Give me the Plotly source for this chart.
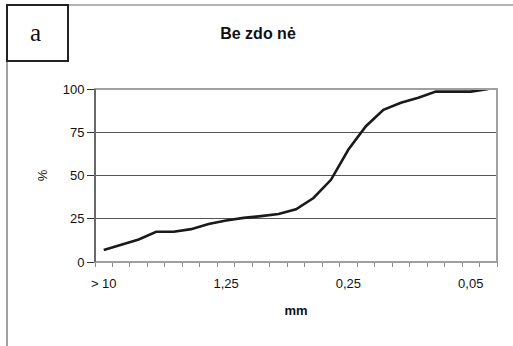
import plotly.graph_objects as go

# Particle-size distribution (cumulative %, fine fraction on the right)
positions = list(range(23))
passing = [7, 10, 13, 17.5, 17.5, 19, 22, 24, 25.5, 26.5, 27.7, 30.5, 37,
           47.5, 65, 78.5, 88, 92, 95, 98.5, 98.5, 98.5, 100]
tick_positions = [0, 7, 14, 21]
tick_labels = ["> 10", "1,25", "0,25", "0,05"]
y_ticks = [0, 25, 50, 75, 100]

W, H = 513, 346
L, R, T, B = 95, 497, 89, 262


def px_x(x):
    return (x - L) / (R - L)


def px_y(y):
    return (B - y) / (B - T)


FONT = "Arial, Liberation Sans, sans-serif"

fig = go.Figure()
fig.add_trace(go.Scatter(
    x=positions, y=passing, mode="lines",
    line=dict(color="#1a1a1a", width=2.6),
    hoverinfo="skip", showlegend=False, cliponaxis=False,
))

fig.update_layout(
    width=W, height=H,
    margin=dict(l=L, r=W - R, t=T, b=H - B, pad=0),
    paper_bgcolor="white", plot_bgcolor="white",
    font=dict(family=FONT, size=13, color="#111"),
    title=dict(text="<b>Be zdo nė</b>", x=258 / W, y=1 - 33 / H,
               xanchor="center", yanchor="middle",
               font=dict(family=FONT, size=16, color="#111")),
    xaxis=dict(
        range=[-0.5, 22.5], tickmode="array",
        tickvals=tick_positions, ticktext=tick_labels,
        ticks="outside", ticklen=9, tickcolor="rgba(0,0,0,0)",
        showgrid=False, zeroline=False,
        showline=True, linecolor="#8a8a8a", linewidth=1,
        tickfont=dict(size=13, color="#111"),
        minor=dict(tickmode="array",
                   tickvals=[p - 0.5 for p in range(24)],
                   ticks="outside", ticklen=4, tickcolor="#8a8a8a",
                   tickwidth=1, showgrid=False),
        title=dict(text="<b>mm</b>", standoff=16,
                   font=dict(family=FONT, size=13, color="#111")),
        fixedrange=True,
    ),
    yaxis=dict(
        range=[0, 100], tickmode="array", tickvals=y_ticks,
        ticks="outside", ticklen=7, tickcolor="#333", tickwidth=1,
        showgrid=True, gridcolor="#555", gridwidth=1,
        zeroline=False, showline=True, linecolor="#333", linewidth=1,
        tickfont=dict(size=13, color="#111"),
        title=dict(text="%", standoff=12,
                   font=dict(family=FONT, size=13, color="#111")),
        fixedrange=True,
    ),
)

# Plot-area frame
fig.add_shape(type="rect", xref="paper", yref="paper",
              x0=0, x1=1, y0=0, y1=1,
              line=dict(color="#a0a0a0", width=2), layer="above")
# Redraw the left axis over the frame
fig.add_shape(type="line", xref="paper", yref="paper",
              x0=0, x1=0, y0=0, y1=1,
              line=dict(color="#333", width=1), layer="above")

# Outer figure border (left and top edges)
fig.add_shape(type="line", xref="paper", yref="paper",
              x0=px_x(7), x1=px_x(7), y0=px_y(5), y1=px_y(H + 2),
              line=dict(color="#666", width=1.2))
fig.add_shape(type="line", xref="paper", yref="paper",
              x0=px_x(7), x1=px_x(W + 2), y0=px_y(5), y1=px_y(5),
              line=dict(color="#666", width=1.2))

# Panel label box
fig.add_shape(type="rect", xref="paper", yref="paper",
              x0=px_x(7), x1=px_x(68), y0=px_y(61), y1=px_y(5),
              line=dict(color="#222", width=2))
fig.add_annotation(text="a", xref="paper", yref="paper",
                   x=px_x(35), y=px_y(33), showarrow=False,
                   xanchor="center", yanchor="middle",
                   font=dict(family="Liberation Serif, Times New Roman, serif",
                             size=25, color="#111"))

fig.write_html("out.html", config=dict(displayModeBar=False))
